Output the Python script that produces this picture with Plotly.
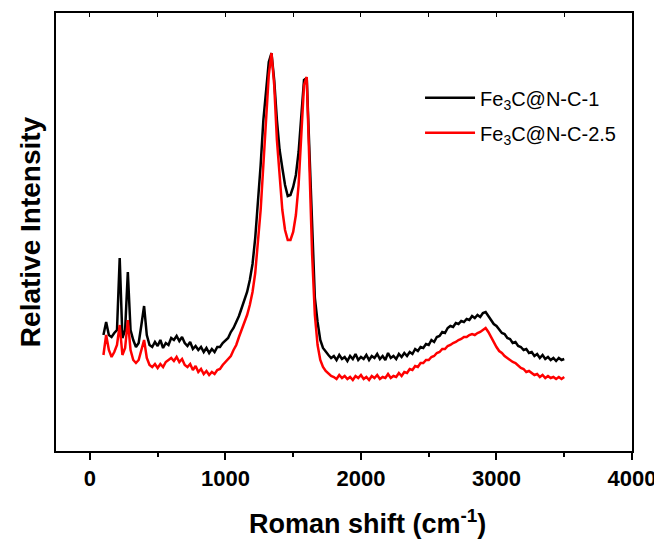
import plotly.graph_objects as go

# Raman shift grid (cm-1), one reading every 20 cm-1 from 100 to 3500
shift = list(range(100, 3501, 20))

# Fe3C@N-C-1 (black), intensity (a.u.)
fe3c_1 = [
    122, 135, 122, 120, 124, 127, 199, 119, 127, 185,
    127, 117, 110, 114, 132, 151, 122, 112, 110, 115,
    111, 117, 109, 114, 112, 119, 117, 121, 116, 120,
    114, 111, 115, 108, 111, 107, 110, 105, 109, 104,
    108, 105, 110, 110, 114, 117, 119, 125, 129, 135,
    141, 149, 156, 165, 177, 193, 219, 252, 292, 337,
    369, 395, 404, 377, 337, 307, 289, 272, 261, 262,
    270, 282, 305, 345, 377, 379, 307, 217, 159, 135,
    117, 109, 105, 102, 99, 101, 97, 102, 98, 100,
    96, 101, 98, 103, 97, 100, 98, 102, 97, 101,
    99, 103, 98, 101, 97, 104, 99, 101, 98, 103,
    100, 104, 101, 105, 103, 108, 106, 110, 109, 113,
    112, 117, 115, 120, 121, 125, 124, 129, 131, 130,
    134, 133, 136, 135, 138, 137, 141, 139, 142, 140,
    144, 145, 141, 137, 133, 131, 128, 124, 123, 119,
    118, 114, 115, 111, 110, 107, 108, 104, 105, 101,
    103, 99, 102, 98, 100, 97, 99, 96, 99, 97,
    98,
]

# Fe3C@N-C-2.5 (red)
fe3c_25 = [
    102, 122, 107, 100, 105, 112, 132, 102, 109, 137,
    107, 97, 94, 97, 107, 117, 99, 92, 90, 93,
    89, 93, 90, 95, 97, 99, 96, 100, 95, 98,
    92, 90, 93, 87, 91, 85, 88, 83, 86, 82,
    85, 83, 87, 88, 92, 95, 98, 101, 107, 112,
    120, 127, 135, 142, 152, 165, 184, 212, 247, 292,
    342, 382, 404, 372, 317, 277, 247, 227, 217, 217,
    225, 242, 272, 322, 372, 380, 297, 202, 142, 112,
    97, 90, 86, 83, 81, 80, 78, 82, 79, 81,
    78, 80, 77, 81, 79, 82, 78, 80, 77, 81,
    79, 82, 78, 80, 79, 83, 79, 81, 80, 84,
    81, 85, 84, 88, 87, 91, 90, 94, 94, 97,
    97, 100, 101, 104, 105, 108, 108, 111, 112, 114,
    115, 117, 118, 120, 120, 122, 123, 122, 124, 125,
    127, 129, 125, 120, 114, 110, 106, 104, 101, 99,
    97, 95, 94, 91, 89, 88, 85, 86, 84, 82,
    83, 80, 82, 79, 81, 79, 80, 78, 80, 78,
    80,
]

x_ticks = [0, 1000, 2000, 3000, 4000]

fig = go.Figure()
fig.add_trace(go.Scatter(x=shift, y=fe3c_1, mode="lines",
                         name="Fe<sub>3</sub>C@N-C-1", legendgroup="a",
                         line=dict(color="#000000", width=2.5)))
fig.add_trace(go.Scatter(x=shift, y=fe3c_25, mode="lines",
                         name="Fe<sub>3</sub>C@N-C-2.5", legendgroup="b",
                         line=dict(color="#ff0000", width=2.5)))

# empty trace just to get the inward ticks on the top border
fig.add_trace(go.Scatter(x=[None], y=[None], xaxis="x2", showlegend=False))

# page body has an 8px margin, so the figure is 8px smaller than the window
fig.update_layout(
    width=654, height=531,
    margin=dict(l=48, r=30, t=5, b=88),
    plot_bgcolor="white", paper_bgcolor="white",
    font=dict(family="Arial, Liberation Sans, sans-serif", color="black"),
    xaxis=dict(
        range=[-250, 4000], tickvals=x_ticks, automargin=False,
        ticks="outside", ticklen=7, tickwidth=2, tickcolor="black",
        minor=dict(dtick=500, tick0=0, ticks="outside", ticklen=4,
                   tickwidth=2, tickcolor="black"),
        showline=True, linewidth=2, linecolor="black", mirror=True,
        showgrid=False, zeroline=False,
        tickfont=dict(size=22, weight="bold"),
    ),
    xaxis2=dict(
        overlaying="x", side="top", range=[-250, 4000],
        tickvals=[0, 500, 1000, 1500, 2000, 2500, 3000, 3500],
        ticks="inside", ticklen=4, tickwidth=1, tickcolor="black",
        showticklabels=False, showgrid=False, zeroline=False,
    ),
    yaxis=dict(
        range=[6, 444], showticklabels=False, ticks="", automargin=False,
        showline=True, linewidth=2, linecolor="black", mirror=True,
        showgrid=False, zeroline=False,
        title=dict(text="<b>Relative Intensity</b>", font=dict(size=28),
                   standoff=5),
    ),
    legend=dict(
        x=0.632, y=0.851, xanchor="left", yanchor="top",
        bgcolor="rgba(0,0,0,0)", font=dict(size=20),
        itemwidth=50, tracegroupgap=6,
    ),
)

# x title sits a bit right of the plot centre in the original
fig.add_annotation(
    text="<b>Roman shift (cm<sup>-1</sup>)</b>", font=dict(size=27),
    xref="paper", yref="paper", x=0.54, y=-0.162,
    xanchor="center", yanchor="middle", showarrow=False,
)

fig.write_html("out.html")
